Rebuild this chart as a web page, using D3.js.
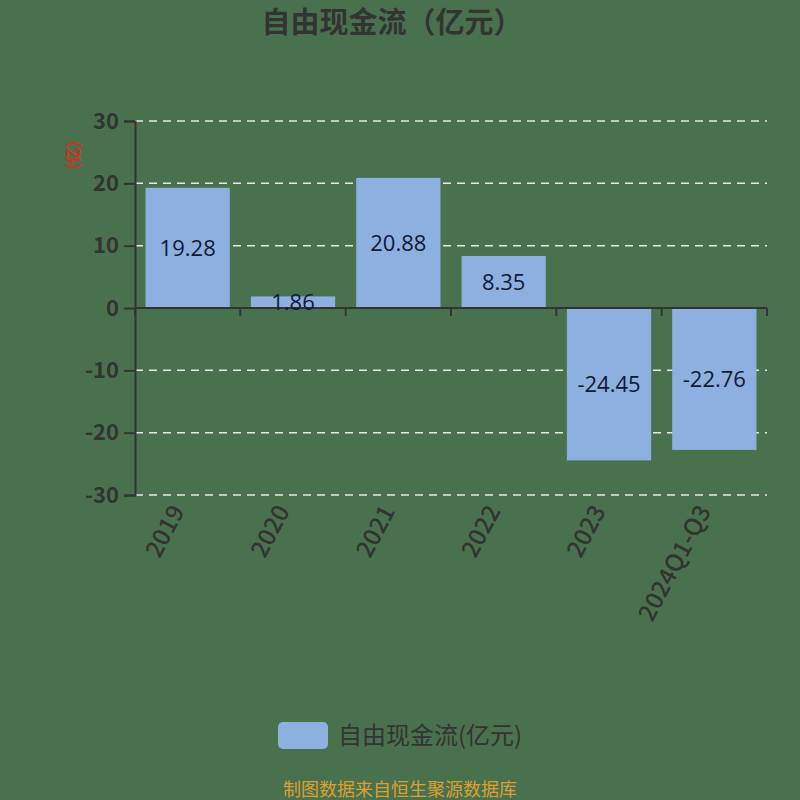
<!DOCTYPE html>
<html>
<head>
<meta charset="utf-8">
<script src="https://cdn.jsdelivr.net/npm/d3@7"></script>
<style>
  html, body { margin: 0; padding: 0; background: #49714e; }
  svg { display: block; font-family: "Noto Sans CJK SC", "Noto Sans", sans-serif; }
</style>
</head>
<body>
<svg id="chart"></svg>
<script>
const categories = ['2019', '2020', '2021', '2022', '2023', '2024Q1-Q3'];
const values = [19.28, 1.86, 20.88, 8.35, -24.45, -22.76];
const yTicks = [-30, -20, -10, 0, 10, 20, 30];

const W = 800, H = 800;
const margin = { top: 121, right: 33, bottom: 305, left: 135 };
const width = W - margin.left - margin.right;
const height = H - margin.top - margin.bottom;

const root = d3.select('#chart').attr('width', W).attr('height', H);
root.append('rect').attr('width', W).attr('height', H).attr('fill', '#49714e');

root.append('text')
    .attr('x', 392).attr('y', 33)
    .attr('text-anchor', 'middle')
    .style('font-size', '29px').style('font-weight', 'bold')
    .attr('fill', '#333')
    .text('自由现金流（亿元）');

const svg = root.append('g').attr('transform', `translate(${margin.left},${margin.top})`);

const x = d3.scaleBand().domain(categories).range([0, width]).paddingInner(0.2).paddingOuter(0.1);
const y = d3.scaleLinear().domain([-30, 30]).range([height, 0]);

// grid
svg.append('g').selectAll('line').data(yTicks).enter().append('line')
    .attr('x1', 0).attr('x2', width)
    .attr('y1', d => y(d)).attr('y2', d => y(d))
    .attr('stroke', '#e8e8e8').attr('stroke-width', 1.5)
    .attr('stroke-dasharray', '8,6');

// bars
svg.append('g').selectAll('rect').data(values).enter().append('rect')
    .attr('x', (d, i) => x(categories[i]))
    .attr('width', x.bandwidth())
    .attr('y', d => y(Math.max(0, d)))
    .attr('height', d => Math.abs(y(d) - y(0)))
    .attr('fill', '#8eb0e0');

// y axis
const yAxis = svg.append('g')
    .call(d3.axisLeft(y).tickValues(yTicks).tickSize(11).tickPadding(5).tickFormat(d => String(d)));
yAxis.select('.domain').attr('stroke', '#333').attr('stroke-width', 2);
yAxis.selectAll('.tick line').attr('stroke', '#333').attr('stroke-width', 2);
yAxis.selectAll('.tick text').attr('fill', '#333')
    .style('font-size', '22px').style('font-weight', '600')
    .style('font-family', '"Noto Sans CJK SC", sans-serif');

// x axis at zero
const step = width / categories.length;
const xAxis = svg.append('g').attr('transform', `translate(0,${y(0)})`);
xAxis.append('line').attr('x1', 0).attr('x2', width)
    .attr('stroke', '#333').attr('stroke-width', 2);
xAxis.selectAll('.tk').data(d3.range(categories.length + 1)).enter().append('line')
    .attr('x1', d => d * step).attr('x2', d => d * step)
    .attr('y1', 0).attr('y2', 8)
    .attr('stroke', '#333').attr('stroke-width', 2);

// x labels (below plot)
svg.append('g').selectAll('text').data(categories).enter().append('text')
    .attr('transform', d => `translate(${x(d) + x.bandwidth() / 2 - 10},${height + 12}) rotate(-62)`)
    .attr('text-anchor', 'end')
    .attr('dy', '0.35em')
    .attr('fill', '#333')
    .style('font-size', '24px').style('font-weight', '500')
    .style('font-family', '"Noto Sans CJK SC", sans-serif')
    .text(d => d);

// value labels
svg.append('g').selectAll('text').data(values).enter().append('text')
    .attr('x', (d, i) => x(categories[i]) + x.bandwidth() / 2)
    .attr('y', d => (y(Math.max(0, d)) + y(Math.min(0, d))) / 2)
    .attr('dy', '0.35em')
    .attr('text-anchor', 'middle')
    .attr('fill', '#111a33')
    .style('font-size', '22px').style('font-family', '"Open Sans", sans-serif')
    .text(d => d.toFixed(2));

// y unit label
root.append('text')
    .attr('transform', 'translate(73,155) rotate(-90)')
    .attr('text-anchor', 'middle').attr('dy', '0.35em')
    .attr('fill', '#e0281e')
    .style('font-size', '16px').style('font-weight', 'bold')
    .text('(亿)');

// legend
root.append('rect')
    .attr('x', 278).attr('y', 722).attr('width', 50).attr('height', 27).attr('rx', 5)
    .attr('fill', '#8eb0e0');
root.append('text')
    .attr('x', 338).attr('y', 736).attr('dy', '0.35em')
    .attr('fill', '#333')
    .style('font-size', '24px')
    .text('自由现金流(亿元)');

// footer
root.append('text')
    .attr('x', 400).attr('y', 790).attr('dy', '0.35em')
    .attr('text-anchor', 'middle')
    .attr('fill', '#dca030')
    .style('font-size', '18px')
    .text('制图数据来自恒生聚源数据库');
</script>
</body>
</html>
